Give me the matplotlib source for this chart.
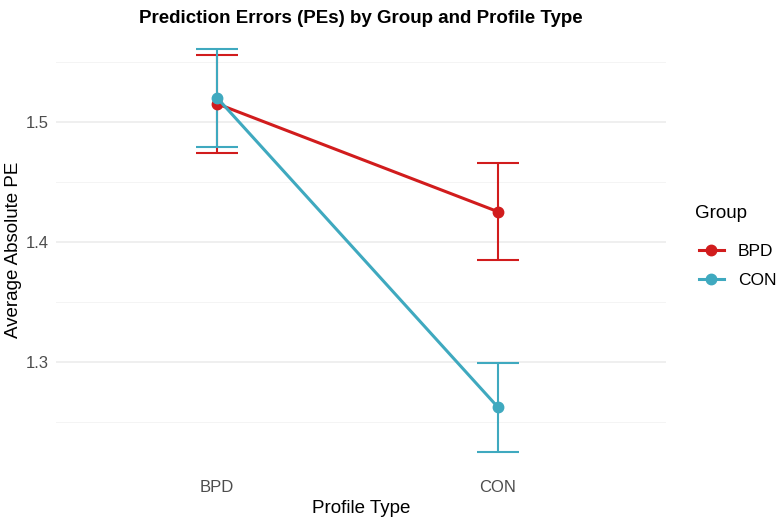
import matplotlib.pyplot as plt
from matplotlib.lines import Line2D
import numpy as np

plt.rcParams['font.family'] = ['Liberation Sans', 'DejaVu Sans']

# Data
profiles = ['BPD', 'CON']
groups = ['BPD', 'CON']
means = {'BPD': [1.515, 1.425], 'CON': [1.520, 1.262]}
errs = {'BPD': [0.041, 0.0405], 'CON': [0.041, 0.037]}
colors = {'BPD': '#D11C1D', 'CON': '#3FA9BF'}

fig = plt.figure(figsize=(7.78, 5.21), dpi=100)
ax = fig.add_axes([0.072, 0.094, 0.784, 0.852])

x = np.arange(len(profiles))
for g in groups:
    ax.errorbar(x, means[g], yerr=errs[g], color=colors[g], lw=1.5,
                capsize=14.8, capthick=1.5, fmt='none', zorder=3)
    ax.plot(x, means[g], color=colors[g], lw=2.2, marker='o', ms=7.5, zorder=4)

ax.set_xlim(-0.573, 1.598)
ax.set_ylim(1.208, 1.578)
ax.set_xticks(x)
ax.set_xticklabels(profiles)
ax.set_yticks([1.3, 1.4, 1.5])
ax.set_yticks([1.25, 1.35, 1.45, 1.55], minor=True)
ax.yaxis.set_major_formatter(plt.FuncFormatter(lambda v, p: f'{v:.1f}'))

ax.grid(axis='y', which='major', color='#EBEBEB', lw=1.1)
ax.grid(axis='y', which='minor', color='#F2F2F2', lw=0.6)
ax.set_axisbelow(True)
for s in ax.spines.values():
    s.set_visible(False)
ax.tick_params(which='both', length=0, labelsize=12, labelcolor='#4D4D4D')
ax.tick_params(axis='x', pad=6)
ax.tick_params(axis='y', pad=5)

ax.set_xlabel('Profile Type', fontsize=13.5, labelpad=3)
ax.set_ylabel('Average Absolute PE', fontsize=13.5, labelpad=3)
ax.set_title('Prediction Errors (PEs) by Group and Profile Type',
             fontsize=13.5, fontweight='bold', pad=4)

# legend: title as separate text so the gap matches ggplot
fig.text(0.893, 1 - 213 / 521, 'Group', fontsize=13.5, va='center', ha='left')
handles = [Line2D([0], [0], color=colors[g], lw=2.2, marker='o', ms=7.5)
           for g in groups]
leg = fig.legend(handles, groups, loc='center left',
                 bbox_to_anchor=(0.878, 1 - 266 / 521), frameon=False,
                 fontsize=12.5, handlelength=1.45, labelspacing=0.8,
                 handletextpad=0.8)

fig.savefig('out.png', dpi=100)
